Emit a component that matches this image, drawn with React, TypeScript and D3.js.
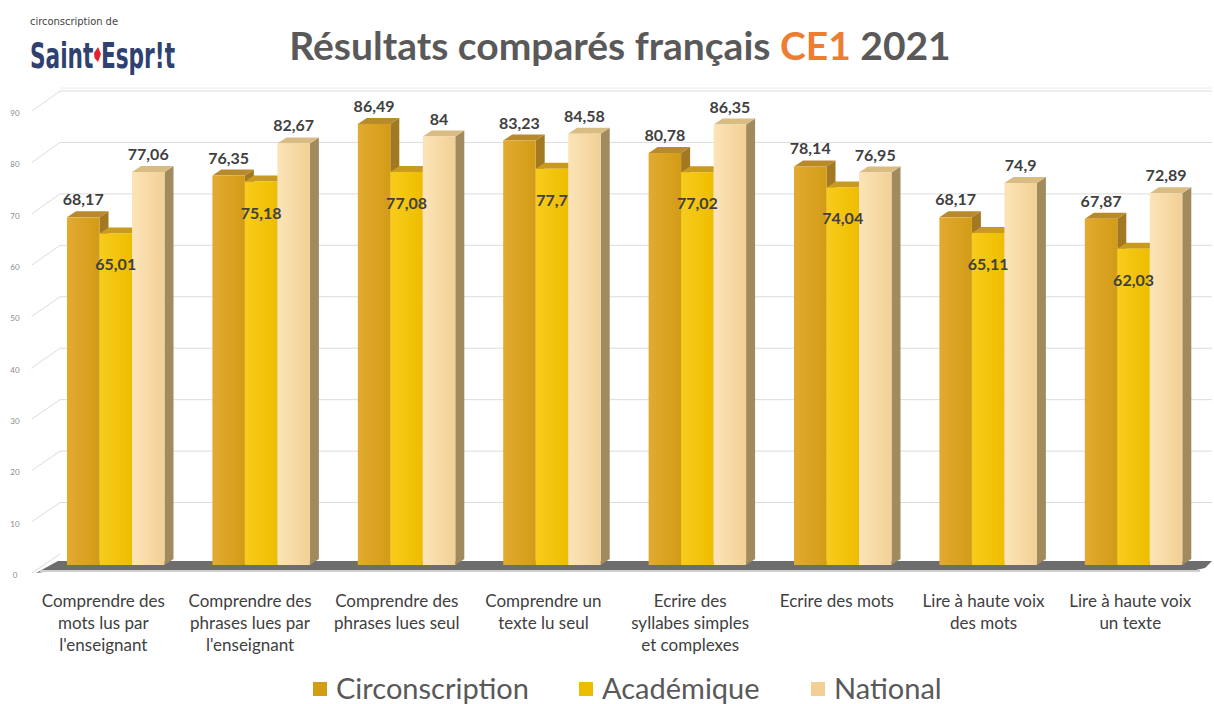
import React from "react";
import * as d3 from "d3";

const categories: string[][] = [
  ["Comprendre des", "mots lus par", "l'enseignant"],
  ["Comprendre des", "phrases lues par", "l'enseignant"],
  ["Comprendre des", "phrases lues seul"],
  ["Comprendre un", "texte lu seul"],
  ["Ecrire des", "syllabes simples", "et complexes"],
  ["Ecrire des mots"],
  ["Lire à haute voix", "des mots"],
  ["Lire à haute voix", "un texte"],
];
const seriesNames = ["Circonscription", "Académique", "National"];
const circonscription = [68.17, 76.35, 86.49, 83.23, 80.78, 78.14, 68.17, 67.87];
const academique = [65.01, 75.18, 77.08, 77.7, 77.02, 74.04, 65.11, 62.03];
const national = [77.06, 82.67, 84, 84.58, 86.35, 76.95, 74.9, 72.89];
const yTicks = [0, 10, 20, 30, 40, 50, 60, 70, 80, 90];

const W = 1214;
const H = 704;
const DX = 9;
const DY = 6;
const FONT = "Lato, 'Open Sans', sans-serif";

const styles = [
  { front: ["#E2AA30", "#D39C16"], top: "#B88A2C", side: "#A27820", label: "top" },
  { front: ["#F8CC1C", "#EDBD00"], top: "#C89A1E", side: "#BE9610", label: "inside" },
  { front: ["#FCE4B8", "#F2D095"], top: "#D9BC82", side: "#A08A5E", label: "top" },
];

const fmt = (v: number) => String(v).replace(".", ",");

export default function App() {
  const keys = categories.map((_, i) => String(i));
  const xGroup = d3.scaleBand<string>().domain(keys).range([30, 30 + 8 * 145.4]).padding(0);
  const xLabel = d3.scaleBand<string>().domain(keys).range([30, 30 + 8 * 146.7]).padding(0);
  const xInner = d3.scaleBand<string>().domain(seriesNames).range([37, 37 + 3 * 32.5]).padding(0);
  const y = d3.scaleLinear().domain([0, 90]).range([565, 106]);
  const yBack = d3.scaleLinear().domain([0, 90]).range([554, 91]);
  const yLab = d3.scaleLinear().domain([0, 90]).range([575, 113]);
  const data = [circonscription, academique, national];
  const bw = xInner.bandwidth();
  const legendX = [313, 579, 811];

  return (
    <svg width={W} height={H} style={{ display: "block", position: "absolute", left: 0, top: 0, background: "#fff" }}>
      <defs>
        {styles.map((s, i) => (
          <linearGradient key={i} id={`g${i}`} x1="0" x2="1" y1="0" y2="0">
            <stop offset="0" stopColor={s.front[0]} />
            <stop offset="1" stopColor={s.front[1]} />
          </linearGradient>
        ))}
      </defs>
      <rect width={W} height={H} fill="#fff" />

      {/* logo */}
      <text x={30} y={25} fontFamily="'DejaVu Sans Condensed', 'DejaVu Sans', sans-serif" fontSize={11} fill="#444" textLength={88} lengthAdjust="spacingAndGlyphs">circonscription de</text>
      <text x={30} y={68} fontFamily="'DejaVu Sans Condensed', 'DejaVu Sans', sans-serif" fontWeight="bold" fontSize={35} fill="#2F416F" textLength={145} lengthAdjust="spacingAndGlyphs">Saint Espr!t</text>
      <path d="M94,53 L98,47 L101,54 L98,62 L94.5,58 Z" fill="#E0242B" />

      {/* title */}
      <text x={620} y={60} textAnchor="middle" fontFamily={FONT} fontWeight="bold" fontSize={39} fill="#595959">
        Résultats comparés français <tspan fill="#ED7D31">CE1</tspan> 2021
      </text>

      {/* walls / grid */}
      <line x1={60} x2={1212} y1={88} y2={88} stroke="#ececec" />
      {yTicks.map((t) => (
        <g key={t}>
          {t > 0 && <line x1={60} x2={1212} y1={yBack(t)} y2={yBack(t)} stroke="#dcdcdc" strokeWidth={1} />}
          <line x1={32} y1={yLab(t) - 2} x2={60} y2={yBack(t)} stroke="#dcdcdc" strokeWidth={1} />
          <text x={15} y={yLab(t) + 3} textAnchor="middle" fontFamily={FONT} fontSize={8} fill="#8a8a8a">{t}</text>
        </g>
      ))}

      {/* floor */}
      <path d={`M36,${y(0) + 8} L58,${y(0) - 4} L1212,${y(0) - 4} L1205,${y(0) + 3} L1196,${y(0) + 5} L60,${y(0) + 5} Z`} fill="#6d6d6d" />
      <line x1={40} x2={1200} y1={y(0) + 6} y2={y(0) + 6} stroke="#cfcfcf" strokeWidth={2} />

      {/* bars */}
      {keys.map((k, gi) => (
        <g key={k}>
          {seriesNames.map((s, si) => {
            const v = data[si][gi];
            const x0 = (xGroup(k) as number) + (xInner(s) as number);
            const x1 = x0 + bw;
            const yt = y(v);
            const yb = y(0);
            const st = styles[si];
            return (
              <g key={s}>
                <path d={`M${x1},${yt} L${x1 + DX},${yt - DY} L${x1 + DX},${yb - DY} L${x1},${yb} Z`} fill={st.side} />
                <path d={`M${x0},${yt} L${x0 + DX},${yt - DY} L${x1 + DX},${yt - DY} L${x1},${yt} Z`} fill={st.top} />
                <rect x={x0} y={yt} width={bw} height={yb - yt} fill={`url(#g${si})`} />
              </g>
            );
          })}
          {seriesNames.map((s, si) => {
            const v = data[si][gi];
            const x0 = (xGroup(k) as number) + (xInner(s) as number);
            const yt = y(v);
            const ly = styles[si].label === "top" ? yt - 12 : yt + 37;
            return (
              <text key={s} x={x0 + bw / 2} y={ly} textAnchor="middle" fontFamily={FONT} fontWeight="bold" fontSize={16} fill="#404040">
                {fmt(v)}
              </text>
            );
          })}
          <text textAnchor="middle" fontFamily={FONT} fontSize={17} fill="#404040">
            {categories[gi].map((line, li) => (
              <tspan key={li} x={(xLabel(k) as number) + xLabel.bandwidth() / 2} y={607 + li * 22}>{line}</tspan>
            ))}
          </text>
        </g>
      ))}

      {/* legend */}
      {seriesNames.map((s, si) => (
        <g key={s}>
          <rect x={legendX[si]} y={682} width={14} height={14} fill={styles[si].front[1]} />
          <text x={legendX[si] + 23} y={699} fontFamily={FONT} fontSize={29} fill="#595959">{s}</text>
        </g>
      ))}
    </svg>
  );
}
